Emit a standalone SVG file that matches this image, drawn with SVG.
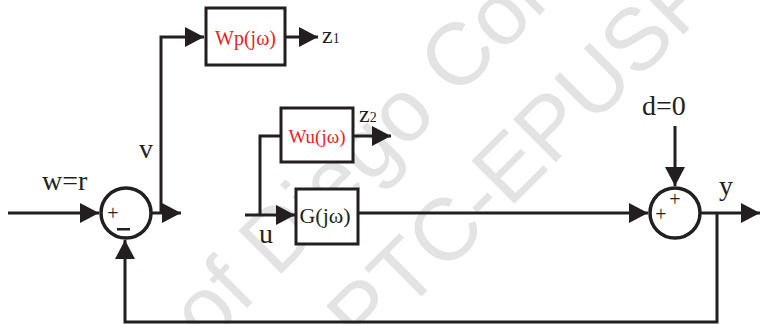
<svg xmlns="http://www.w3.org/2000/svg" width="761" height="324" viewBox="0 0 761 324">
<style>
.wm{font-family:"Liberation Sans",Arial,sans-serif;font-size:88px;fill:#e3e3e3}
.ln{fill:none;stroke:#231f20;stroke-width:3}
.box{fill:#fff;stroke:#231f20;stroke-width:3}
.sum{fill:#fff;stroke:#231f20;stroke-width:3.5}
.lbl{font-family:"Liberation Serif","Times New Roman",serif;font-size:28px;fill:#231f20}
.red{font-family:"Liberation Serif","Times New Roman",serif;font-size:20px;fill:#ed1c24;text-anchor:middle}
.blk{font-family:"Liberation Serif","Times New Roman",serif;font-size:22px;fill:#231f20;text-anchor:middle}
.sgn{font-family:"Liberation Serif","Times New Roman",serif;font-size:20px;fill:#231f20;text-anchor:middle}
.z{font-family:"Liberation Serif","Times New Roman",serif;font-size:24px;fill:#231f20}
</style>
<defs>
<marker id="ah" markerUnits="userSpaceOnUse" markerWidth="20" markerHeight="20" viewBox="0 0 20 20" refX="19" refY="10" orient="auto">
<path d="M0,0 L19,10 L0,20 Z" fill="#231f20"/>
</marker>
</defs>
<g id="watermark">
<text class="wm" x="207" y="348" transform="rotate(-45 207 348)">of Diego Colón</text>
<text class="wm" x="364" y="354" transform="rotate(-45 364 354)">PTC-EPUSP</text>
</g>
<g id="connectors">
<path class="ln" d="M8,213 H99" marker-end="url(#ah)"/>
<path class="ln" d="M152,213 H181" marker-end="url(#ah)"/>
<path class="ln" d="M161,213 V37 H204" marker-end="url(#ah)"/>
<path class="ln" d="M285,37 H318" marker-end="url(#ah)"/>
<path class="ln" d="M245,215 H295" marker-end="url(#ah)"/>
<path class="ln" d="M260,215 V136 H281"/>
<path class="ln" d="M353,136 H391" marker-end="url(#ah)"/>
<path class="ln" d="M358,213 H648" marker-end="url(#ah)"/>
<path class="ln" d="M675,126 V186" marker-end="url(#ah)"/>
<path class="ln" d="M701,213 H760" marker-end="url(#ah)"/>
<path class="ln" d="M717,213 V322 H125 V240" marker-end="url(#ah)"/>
</g>
<g id="sum1">
<circle class="sum" cx="126" cy="213" r="25"/>
<text class="sgn" x="113" y="220">+</text>
<rect x="117" y="228" width="13" height="2.5" fill="#231f20"/>
</g>
<g id="sum2">
<circle class="sum" cx="675" cy="213" r="25"/>
<text class="sgn" x="661" y="221">+</text>
<text class="sgn" x="675" y="206">+</text>
</g>
<g id="Wp">
<rect class="box" x="206" y="8" width="79" height="57"/>
<text class="red" x="245.5" y="45">Wp(jω)</text>
</g>
<g id="Wu">
<rect class="box" x="281" y="108" width="72" height="54"/>
<text class="red" x="317" y="143" style="font-size:19px">Wu(jω)</text>
</g>
<g id="G">
<rect class="box" x="296" y="189" width="62" height="55"/>
<text class="blk" x="325" y="223">G(jω)</text>
</g>
<g id="labels">
<text class="lbl" x="42" y="190">w=r</text>
<text class="lbl" x="139" y="158">v</text>
<text class="lbl" x="259" y="243">u</text>
<text class="lbl" x="642" y="115">d=0</text>
<text class="lbl" x="719" y="195">y</text>
<text class="z" x="322" y="43">z<tspan style="font-size:14px">1</tspan></text>
<text class="z" x="359" y="122">z<tspan style="font-size:14px">2</tspan></text>
</g>
</svg>
